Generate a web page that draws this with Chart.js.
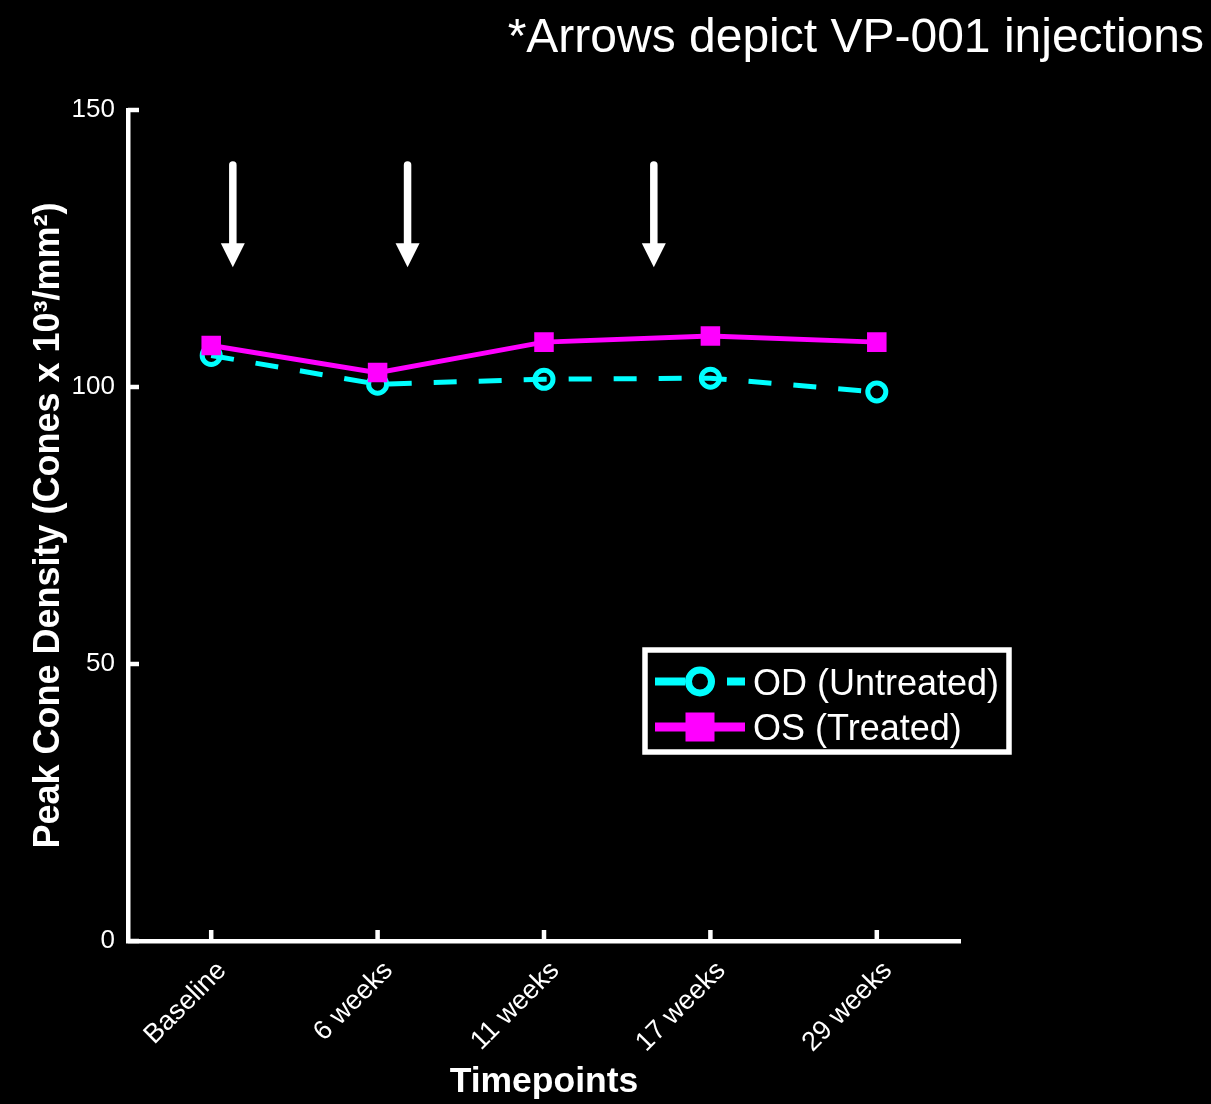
<!DOCTYPE html>
<html>
<head>
<meta charset="utf-8">
<title>Peak Cone Density</title>
<script src="https://cdn.jsdelivr.net/npm/chart.js@4.4.1/dist/chart.umd.min.js"></script>
<style>
    html, body { margin: 0; padding: 0; background: #000; }
    #wrap { width: 1211px; height: 1104px; }
</style>
</head>
<body>
<div id="wrap"><canvas id="chart" width="1211" height="1104"></canvas></div>
<script>
// data
const timepoints = ["Baseline", "6 weeks", "11 weeks", "17 weeks", "29 weeks"];
const odUntreated = [105.7, 100.5, 101.4, 101.6, 99.1];
const osTreated = [107.5, 102.6, 108.1, 109.2, 108.1];
const yTicks = [0, 50, 100, 150];

// injection arrows: position along the timepoint axis (category index), and span in y units
const injectionAt = [0.13, 1.18, 2.66];
const arrowTopValue = 140.7;
const arrowTipValue = 121.6;

const FONT = "'Liberation Sans', Arial, Helvetica, sans-serif";
const CYAN = "#00ffff";
const MAGENTA = "#ff00ff";
const WHITE = "#ffffff";

Chart.defaults.font.family = FONT;
Chart.defaults.color = WHITE;

const decor = {
    id: "decor",
    beforeDraw(chart) {
        const ctx = chart.ctx;
        ctx.save();
        ctx.fillStyle = "#000";
        ctx.fillRect(0, 0, chart.width, chart.height);
        ctx.restore();
    },
    afterDraw(chart) {
        const ctx = chart.ctx;
        const xs = chart.scales.x;
        const ys = chart.scales.y;
        const area = chart.chartArea;

        ctx.save();
        // inward tick marks
        ctx.strokeStyle = WHITE;
        ctx.lineWidth = 4.5;
        ctx.lineCap = "butt";
        xs.ticks.forEach((t, i) => {
            const px = xs.getPixelForTick(i);
            ctx.beginPath();
            ctx.moveTo(px, area.bottom);
            ctx.lineTo(px, area.bottom - 11);
            ctx.stroke();
        });
        ys.ticks.forEach((t, i) => {
            const py = ys.getPixelForValue(t.value);
            ctx.beginPath();
            ctx.moveTo(area.left, py);
            ctx.lineTo(area.left + 11, py);
            ctx.stroke();
        });

        // injection arrows
        const yTop = ys.getPixelForValue(arrowTopValue);
        const yTip = ys.getPixelForValue(arrowTipValue);
        const headLen = 24, headHalf = 12;
        injectionAt.forEach(v => {
            const px = xs.getPixelForValue(v);
            ctx.strokeStyle = WHITE;
            ctx.lineWidth = 7.5;
            ctx.lineCap = "round";
            ctx.beginPath();
            ctx.moveTo(px, yTop + 3.5);
            ctx.lineTo(px, yTip - headLen + 2);
            ctx.stroke();
            ctx.fillStyle = WHITE;
            ctx.beginPath();
            ctx.moveTo(px - headHalf, yTip - headLen);
            ctx.lineTo(px + headHalf, yTip - headLen);
            ctx.lineTo(px, yTip);
            ctx.closePath();
            ctx.fill();
        });

        // note at the top right
        ctx.fillStyle = WHITE;
        ctx.font = "48px " + FONT;
        ctx.textAlign = "right";
        ctx.textBaseline = "alphabetic";
        ctx.fillText("*Arrows depict VP-001 injections", 1204, 52);

        // legend box
        const od = chart.data.datasets[0];
        const os = chart.data.datasets[1];
        ctx.fillStyle = "#000";
        ctx.fillRect(645, 650, 364, 102);
        ctx.strokeStyle = WHITE;
        ctx.lineWidth = 5.5;
        ctx.lineCap = "butt";
        ctx.strokeRect(645, 650, 364, 102);

        const r1 = 681.5, r2 = 727;
        ctx.strokeStyle = od.borderColor;
        ctx.lineWidth = 8;
        ctx.beginPath();
        ctx.moveTo(655, r1); ctx.lineTo(685, r1);
        ctx.moveTo(727, r1); ctx.lineTo(745, r1);
        ctx.stroke();
        ctx.lineWidth = 7;
        ctx.beginPath();
        ctx.arc(700, r1, 11.5, 0, Math.PI * 2);
        ctx.stroke();

        ctx.strokeStyle = os.borderColor;
        ctx.lineWidth = 9;
        ctx.beginPath();
        ctx.moveTo(655, r2); ctx.lineTo(745, r2);
        ctx.stroke();
        ctx.fillStyle = os.borderColor;
        ctx.fillRect(700 - 14.5, r2 - 14.5, 29, 29);

        ctx.fillStyle = WHITE;
        ctx.font = "36px " + FONT;
        ctx.textAlign = "left";
        ctx.fillText(od.label, 753, 695);
        ctx.fillText(os.label, 753, 740);
        ctx.restore();
    }
};

new Chart(document.getElementById("chart"), {
    type: "line",
    data: {
        labels: timepoints,
        datasets: [
            {
                label: "OD (Untreated)",
                data: odUntreated,
                order: 1,
                borderColor: CYAN,
                borderWidth: 5,
                borderDash: [23, 22],
                pointStyle: "circle",
                pointRadius: 9,
                pointBorderWidth: 5,
                pointBorderColor: CYAN,
                pointBackgroundColor: "rgba(0,0,0,0)",
                tension: 0,
            },
            {
                label: "OS (Treated)",
                data: osTreated,
                order: 0,
                borderColor: MAGENTA,
                borderWidth: 5,
                pointStyle: "rect",
                pointRadius: 13.8,
                pointBorderWidth: 0,
                pointBackgroundColor: MAGENTA,
                pointBorderColor: MAGENTA,
                tension: 0,
            },
        ],
    },
    options: {
        responsive: false,
        animation: false,
        devicePixelRatio: 1,
        layout: { padding: { top: 110, right: 251, bottom: 0, left: 0 } },
        plugins: {
            legend: { display: false },
            tooltip: { enabled: false },
        },
        scales: {
            x: {
                type: "category",
                offset: true,
                grid: { display: false, drawTicks: false },
                border: { display: true, color: WHITE, width: 4.5 },
                ticks: {
                    color: WHITE,
                    font: { size: 27 },
                    minRotation: 45,
                    maxRotation: 45,
                    padding: 14,
                    labelOffset: 11,
                },
                title: {
                    display: true,
                    text: "Timepoints",
                    color: WHITE,
                    font: { size: 35.5, weight: "bold" },
                    padding: { top: 0, bottom: 0 },
                },
                afterFit: s => { s.height = 163; },
            },
            y: {
                min: 0,
                max: 150,
                grid: { display: false, drawTicks: false },
                border: { display: true, color: WHITE, width: 4.5 },
                afterBuildTicks: s => { s.ticks = yTicks.map(v => ({ value: v })); },
                ticks: {
                    color: WHITE,
                    font: { size: 26 },
                    padding: 13,
                },
                title: {
                    display: true,
                    text: "Peak Cone Density (Cones x 10³/mm²)",
                    color: WHITE,
                    font: { size: 36, weight: "bold" },
                    padding: { top: 27, bottom: 0 },
                },
                afterFit: s => { s.width = 128; },
            },
        },
    },
    plugins: [decor],
});
</script>
</body>
</html>
